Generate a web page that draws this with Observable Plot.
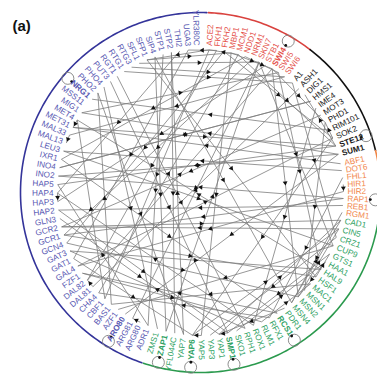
<!DOCTYPE html>
<html>
<head>
<meta charset="utf-8">
<script src="https://cdn.jsdelivr.net/npm/d3@7"></script>
<script src="https://cdn.jsdelivr.net/npm/@observablehq/plot@0.6"></script>
<style>
html,body{margin:0;padding:0;background:#fff;}
#chart{position:relative;width:377px;height:376px;}
</style>
</head>
<body>
<div id="chart"></div>
<script>
// ---- data ----
const redNodes = ["ACE2","FKH1","FKH2","MBP1","MCM1","NDD1","NRM1","SKN7","STB1","SWI4","SWI5","SWI6"];
const blackNodes = ["A1","ASH1","DIG1","HMS1","IME4","MOT3","PHD1","RIM101","SOK2","STE12","SUM1"];
const orangeNodes = ["ABF1","DOT6","FHL1","HIR1","HIR2","RAP1","REB1","RGM1"];
const greenNodes = ["CAD1","CIN5","CRZ1","CUP9","GTS1","HAA1","HAL9","HSF1","MAC1","MSN1","MSN2","MSN4","PDR1","RCS1","RFX1","RLM1","ROX1","RPH1","SKO1","SMP1","YAP1","YAP3","YAP5","YAP6","YAP7","YFL044C","ZAP1","ZMS1"];
const blueNodes = ["ADR1","ARG80","ARG81","ARO80","AZF1","BAS1","CBF1","CHA4","DAL81","DAL82","FZF1","GAL4","GAT1","GAT3","GCN4","GCR1","GCR2","GLN3","HAP2","HAP3","HAP4","HAP5","INO2","INO4","IXR1","LEU3","MAL13","MAL33","MET31","MET4","MIG1","MSS11","NRG1","PHO2","PHO4","PUT3","RGT1","RTG1","RTG3","SFL1","SFP1","SIP4","STP1","STP2","THI2","UGA3","YLR380C"];
const boldNodes = ["SWI4","STE12","SUM1","RCS1","SMP1","YAP6","ZAP1","ARO80","NRG1"];
const selfLoops = ["SWI4","STE12","RAP1","RCS1","SMP1","YAP6","ZAP1","ARO80","NRG1"];
const edgeSources = ["RTG1","RTG3","SFL1","SFP1","PHO4","PHO2","STP1","SIP4","STP2","THI2","UGA3","PUT3","RGT1","SFP1","SIP4",
 "ACE2","FKH1","FKH2","MBP1","MCM1","MCM1","NDD1","SWI4","SWI5","SKN7","STB1","NRM1","SWI6","FKH2","SWI4","MBP1","ACE2","FKH1","NDD1",
 "SUM1","STE12","STE12","SOK2","PHD1","RIM101","SOK2","IME4","MOT3","HMS1","ASH1","A1","SUM1",
 "RAP1","RAP1","REB1","ABF1","FHL1","HIR1","DOT6","RGM1","HIR2",
 "MSN2","MSN4","HSF1","YAP1","YAP6","SKO1","ROX1","PDR1","RCS1","RFX1","RLM1","RPH1","HAL9","CUP9","CRZ1","GTS1","MAC1","SMP1","YAP5","CIN5","ZAP1","YAP7","HAA1",
 "INO4","INO2","GCR2","GCR1","GCN4","GAT1","GAT3","GAL4","FZF1","DAL82","DAL81","CHA4","CBF1","BAS1","ARG80","ARG81","ADR1","MET4","HAP4","LEU3","MIG1","MET31","MAL33","IXR1","HAP2","GLN3"];
const edgeTargets = ["A1","SWI6","SKN7","MBP1","ZMS1","YAP7","ADR1","ZAP1","YFL044C","HAP4","GAT1","SMP1","RPH1","HSF1","MSN4",
 "CBF1","DAL82","GCN4","SWI4","STE12","ACE2","SWI5","MSN2","HAL9","CUP9","HAP3","GCR1","MAL33","SOK2","PHD1","YAP5","SFP1","UGA3","IXR1",
 "MIG1","HAP5","DIG1","PHD1","MSN1","NRG1","YAP6","ROX1","GCR2","INO4","DAL81","CRZ1","ARO80",
 "INO2","GCR1","HAP2","MET31","RFX1","HIR2","LEU3","MSN4","GAL4",
 "CIN5","CAD1","GTS1","CAD1","CIN5","HAA1","HAP4","YAP1","FZF1","CHA4","MAC1","GAT3","MET4","AZF1","YAP3","SMP1","BAS1","YAP1","YAP6","GCR2","SKN7","STP2","MSN2",
 "HMS1","SUM1","CAD1","HSF1","MSN2","YAP6","HAL9","SOK2","RLM1","SWI4","DAL82","MCM1","MET4","PHO2","ARG81","SKN7","HAP5","MET31","HAP3","CUP9","SWI5","STE12","MAL13","RCS1","SMP1","YAP1"];

// ---- layout ----
const W = 377, H = 376;
const cx = 200, cy = 192, rNode = 143, rLabel = 147, rLoop = 175, oR = 180;
const groups = [
  {nodes: redNodes, color: "#e44f49", arc: "#d9423e", a0: 3.5, a1: 36, b0: 2.5, b1: 37.5},
  {nodes: blackNodes, color: "#1a1a1a", arc: "#111111", a0: 40, a1: 74.5, b0: 37.5, b1: 76.5},
  {nodes: orangeNodes, color: "#f2874c", arc: "#f08748", a0: 78.4, a1: 98, b0: 76.5, b1: 99.5},
  {nodes: greenNodes, color: "#2ea163", arc: "#2b9a4e", a0: 101.2, a1: 197.5, b0: 99.5, b1: 199},
  {nodes: blueNodes, color: "#5858b2", arc: "#34349a", a0: 201.5, a1: 358.5, b0: 199, b1: 362.5}
];
const rad = a => a * Math.PI / 180;
const P = (a, r) => [cx + r * Math.sin(rad(a)), cy - r * Math.cos(rad(a))];

const nodes = new Map();
for (const g of groups) {
  const n = g.nodes.length;
  g.nodes.forEach((name, i) => {
    const a = g.a0 + (n > 1 ? i * (g.a1 - g.a0) / (n - 1) : 0);
    const [x, y] = P(a, rNode);
    const [lx, ly] = P(a, rLabel);
    const na = ((a % 360) + 360) % 360;
    const right = na < 180;
    nodes.set(name, {name, a, x, y, lx, ly, color: g.color, right,
      rot: right ? a - 90 : a + 90, bold: boldNodes.includes(name)});
  });
}
const labels = Array.from(nodes.values());

const edges = edgeSources.map((s, i) => {
  const S = nodes.get(s), T = nodes.get(edgeTargets[i]);
  const dx = T.x - S.x, dy = T.y - S.y;
  return {x1: S.x, y1: S.y, x2: T.x, y2: T.y,
    mx: S.x + dx * 0.5, my: S.y + dy * 0.5,
    rot: Math.atan2(dx, -dy) * 180 / Math.PI};
});

const arcs = [];
for (const g of groups) {
  for (let a = g.b0; a <= g.b1 + 0.01; a += 1) {
    const [x, y] = P(a, oR);
    arcs.push({g: g.color, c: g.arc, x, y});
  }
}
const loops = selfLoops.map(name => {
  const N = nodes.get(name);
  const [x, y] = P(N.a, rLoop);
  const [dx, dy] = P(N.a, rLoop - 5);
  return {x, y, dx, dy};
});

const font = "Liberation Sans, Arial, Helvetica, sans-serif";
const fs = 8.2;
const chart = Plot.plot({
  width: W, height: H,
  margin: 0,
  x: {type: "identity"},
  y: {type: "identity"},
  color: {type: "identity"},
  style: {fontFamily: font, background: "#fff"},
  marks: [
    Plot.line(arcs, {x: "x", y: "y", z: "g", stroke: "c", strokeWidth: 1.6}),
    Plot.link(edges, {x1: "x1", y1: "y1", x2: "x2", y2: "y2", stroke: "#7c7c7c", strokeWidth: 0.8}),
    Plot.dot(edges, {x: "mx", y: "my", symbol: "triangle", rotate: "rot", r: 1.8, fill: "#111", stroke: "none"}),
    Plot.dot(loops, {x: "x", y: "y", r: 6, stroke: "#808080", strokeWidth: 0.9, fill: "none"}),
    Plot.dot(loops, {x: "dx", y: "dy", r: 1.4, fill: "#111"}),
    Plot.text(labels.filter(d => d.right && !d.bold), {x: "lx", y: "ly", text: "name", rotate: "rot", fill: "color", textAnchor: "start", fontSize: fs}),
    Plot.text(labels.filter(d => !d.right && !d.bold), {x: "lx", y: "ly", text: "name", rotate: "rot", fill: "color", textAnchor: "end", fontSize: fs}),
    Plot.text(labels.filter(d => d.right && d.bold), {x: "lx", y: "ly", text: "name", rotate: "rot", fill: "color", textAnchor: "start", fontSize: fs, fontWeight: "bold"}),
    Plot.text(labels.filter(d => !d.right && d.bold), {x: "lx", y: "ly", text: "name", rotate: "rot", fill: "color", textAnchor: "end", fontSize: fs, fontWeight: "bold"}),
    Plot.text(["(a)"], {frameAnchor: "top-left", dx: 12, dy: 20, text: d => d, fontSize: 15, fontWeight: "bold", fill: "#111", textAnchor: "start"})
  ]
});
document.getElementById("chart").appendChild(chart);
</script>
</body>
</html>
